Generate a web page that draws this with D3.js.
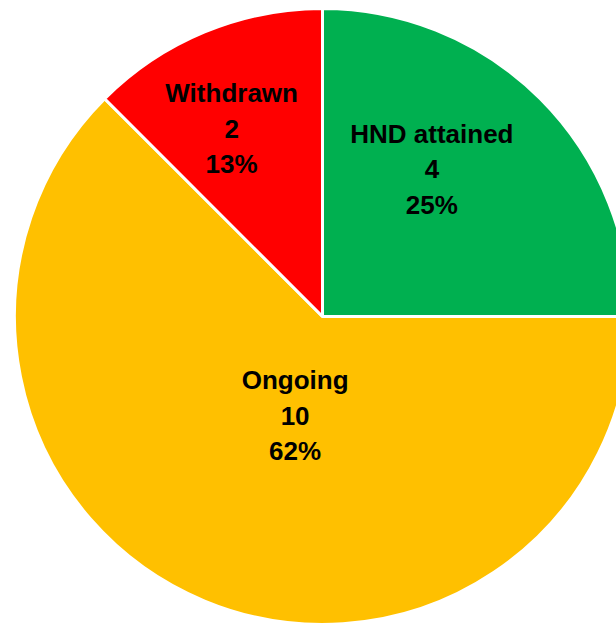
<!DOCTYPE html>
<html>
<head>
<meta charset="utf-8">
<script src="https://cdn.jsdelivr.net/npm/d3@7"></script>
<style>
  html, body { margin: 0; padding: 0; background: #fff; }
  svg { display: block; }
</style>
</head>
<body>
<svg id="pieSvg" width="616" height="626"></svg>
<script>
// chart data
var categories = ["HND attained", "Ongoing", "Withdrawn"];
var counts = [4, 10, 2];
var percentLabels = ["25%", "62%", "13%"];
var sliceColors = ["#00B050", "#FFC000", "#FF0000"];

// where each label sits: fraction of radius, angle shift (deg) from slice middle
var labelPlacement = [
  { frac: 0.597, shift: -8.5 },
  { frac: 0.333, shift: -7 },
  { frac: 0.678, shift: -3.3 }
];

var svg = d3.select("#pieSvg");
var cx = 322.5, cy = 316.5, radius = 308;

var pie = d3.pie().sort(null).value(d => d)(counts);
var arc = d3.arc().innerRadius(0).outerRadius(radius);

var g = svg.append("g").attr("transform", "translate(" + cx + "," + cy + ")");

g.selectAll("path").data(pie).enter()
  .append("path")
  .attr("d", arc)
  .attr("fill", (d, i) => sliceColors[i])
  .attr("stroke", "#fff")
  .attr("stroke-width", 3)
  .attr("stroke-linejoin", "round");

var lineGap = 35.5;

var labels = g.selectAll("text.lbl").data(pie).enter()
  .append("text")
  .attr("class", "lbl")
  .attr("text-anchor", "middle")
  .attr("font-family", "'Liberation Sans', Arial, sans-serif")
  .attr("font-weight", "bold")
  .attr("font-size", "26px")
  .attr("fill", "#000")
  .attr("transform", function (d, i) {
    var p = labelPlacement[i];
    var a = (d.startAngle + d.endAngle) / 2 + p.shift * Math.PI / 180;
    var r = radius * p.frac;
    // middle line is centred on the point
    var x = Math.sin(a) * r;
    var y = -Math.cos(a) * r + 9.5;
    return "translate(" + x + "," + y + ")";
  });

labels.each(function (d, i) {
  var t = d3.select(this);
  var lines = [categories[i], counts[i], percentLabels[i]];
  lines.forEach(function (s, k) {
    t.append("tspan").attr("x", 0).attr("y", (k - 1) * lineGap).text(s);
  });
});
</script>
</body>
</html>
